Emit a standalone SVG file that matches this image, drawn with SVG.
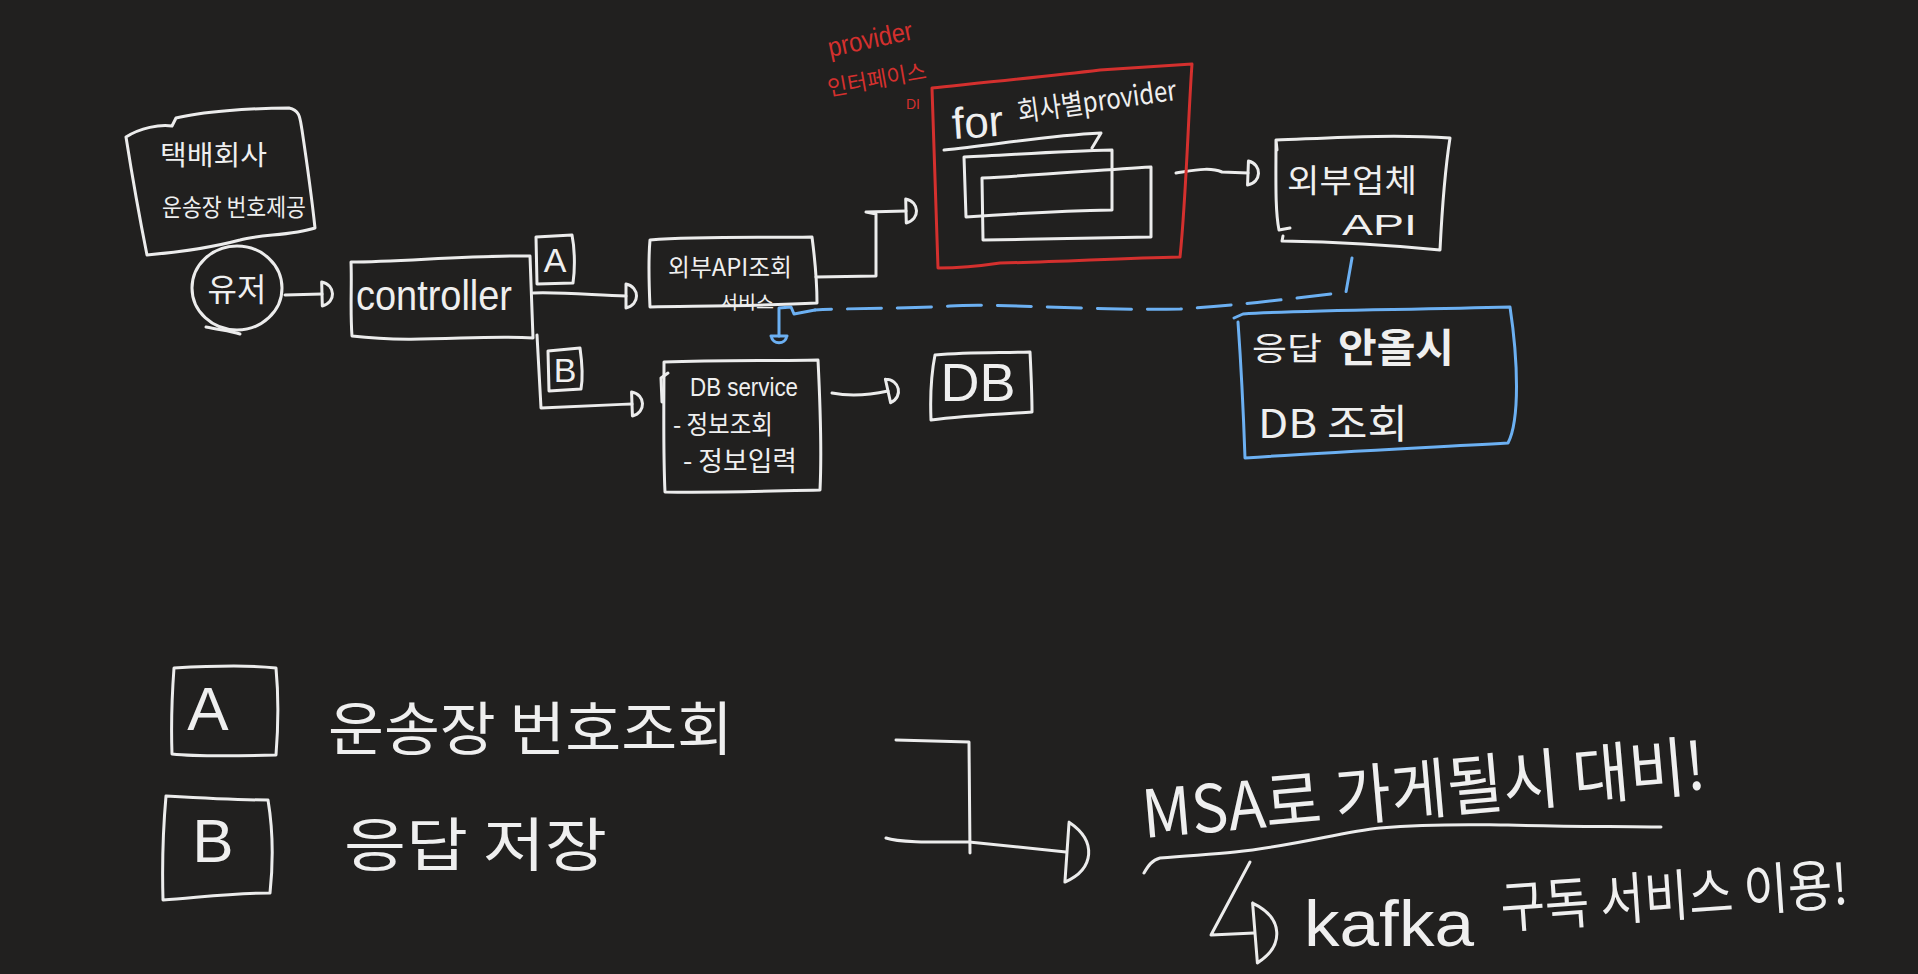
<svg xmlns="http://www.w3.org/2000/svg" width="1918" height="974" viewBox="0 0 1918 974">
<defs>
<style>
.ink{fill:none;stroke:#ececec;stroke-width:3;stroke-linecap:round;stroke-linejoin:round}
.red{fill:none;stroke:#d4302e;stroke-width:3;stroke-linecap:round;stroke-linejoin:round}
.blue{fill:none;stroke:#6cb0f2;stroke-width:3;stroke-linecap:round;stroke-linejoin:round}
.dash{stroke-dasharray:34 16}
.t{fill:#efefef;font-family:"Noto Sans CJK KR","Liberation Sans",sans-serif}
.lt{fill:#efefef;font-family:"Liberation Sans","Noto Sans CJK KR",sans-serif}
.rt{fill:#d4302e;font-family:"Liberation Sans","Noto Sans CJK KR",sans-serif}
</style>
<marker id="arrowD" viewBox="-3 -15 20 30" markerWidth="20" markerHeight="30" refX="0" refY="0" orient="auto" markerUnits="userSpaceOnUse">
<path d="M0,-12 L0,12 M0,-12 C14,-9 14,9 0,12" fill="none" stroke="#ececec" stroke-width="3" stroke-linecap="round"/>
</marker>
<marker id="arrowDL" viewBox="-4 -34 40 68" markerWidth="40" markerHeight="68" refX="0" refY="0" orient="auto" markerUnits="userSpaceOnUse">
<path d="M0,-30 L2,30 M0,-30 C30,-14 30,14 2,30" fill="none" stroke="#ececec" stroke-width="3" stroke-linecap="round"/>
</marker>
<marker id="arrowB" viewBox="-3 -10 14 20" markerWidth="14" markerHeight="20" refX="0" refY="0" orient="auto" markerUnits="userSpaceOnUse">
<path d="M0,-8 L0,8 M0,-8 C9,-6 9,6 0,8" fill="none" stroke="#6cb0f2" stroke-width="3" stroke-linecap="round"/>
</marker>
</defs>
<rect width="1918" height="974" fill="#21201f"/>

<g id="connectors">
<path class="ink" d="M285,295 L322,294" marker-end="url(#arrowD)"/>
<path class="ink" d="M533,293 C570,292 600,296 626,296" marker-end="url(#arrowD)"/>
<path class="ink" d="M537,335 L541,408 C580,406 605,405 632,404" marker-end="url(#arrowD)"/>
<path class="ink" d="M816,277 L876,276 L876,214 L866,212 L906,211" marker-end="url(#arrowD)"/>
<path class="ink" d="M1176,173 C1196,170 1210,167 1222,172 L1248,173" marker-end="url(#arrowD)"/>
<path class="ink" d="M832,393 C852,397 870,395 888,391" marker-end="url(#arrowD)"/>
<path class="blue dash" d="M1352,258 L1346,292 C1300,298 1230,306 1180,309 C1100,311 1000,303 950,306 C900,309 850,308 815,310"/>
<path class="blue" d="M815,310 L794,314 L791,307 L779,308 L779,336" marker-end="url(#arrowB)"/>
<path class="ink" d="M896,740 L969,742 L970,853"/>
<path class="ink" d="M886,838 C900,843 940,842 969,842 L1066,852" marker-end="url(#arrowDL)"/>
<path class="ink" d="M1250,862 L1211,935 L1254,933" marker-end="url(#arrowDL)"/>
</g>

<g id="note-courier">
<path class="ink" d="M126,137 C140,128 160,124 172,126 L176,118 C200,112 250,108 289,108 C300,110 300,118 302,130 C308,170 312,200 315,228 C290,236 260,234 240,240 C210,248 180,252 147,255 C140,220 132,175 126,137 Z"/>
<text class="t" x="160" y="165" font-size="27" textLength="107" lengthAdjust="spacingAndGlyphs">택배회사</text>
<text class="t" x="162" y="216" font-size="24" textLength="144" lengthAdjust="spacingAndGlyphs">운송장 번호제공</text>
</g>

<g id="user">
<ellipse class="ink" cx="237" cy="288" rx="45" ry="42"/>
<path class="ink" d="M206,327 C220,330 230,331 240,334"/>
<text class="t" x="237" y="301" font-size="32" text-anchor="middle">유저</text>
</g>

<g id="controller">
<path class="ink" d="M351,262 C400,262 470,255 530,256 L533,338 C480,334 420,344 352,336 C350,310 352,285 351,262 Z"/>
<text class="lt" x="356" y="310" font-size="42" textLength="156" lengthAdjust="spacingAndGlyphs">controller</text>
</g>

<g id="label-a">
<path class="ink" d="M536,237 L572,235 C575,250 575,270 573,283 L537,284 Z"/>
<text class="lt" x="555" y="272" font-size="34" text-anchor="middle">A</text>
</g>

<g id="label-b">
<path class="ink" d="M548,351 L580,348 C582,362 583,378 581,389 L549,391 Z"/>
<text class="lt" x="565" y="382" font-size="34" text-anchor="middle">B</text>
</g>

<g id="external-api-service">
<path class="ink" d="M650,240 C700,236 760,238 812,237 C815,260 817,285 817,303 C760,306 700,306 650,307 C649,285 648,262 650,240 Z"/>
<text class="t" x="668" y="276" font-size="24" textLength="124" lengthAdjust="spacingAndGlyphs">외부API조회</text>
<text class="t" x="720" y="309" font-size="18" textLength="54" lengthAdjust="spacingAndGlyphs">서비스</text>
</g>

<g id="provider-interface">
<path class="red" d="M932,88 C990,82 1050,76 1100,70 L1192,64 C1188,120 1186,200 1180,257 C1120,258 1060,262 1000,263 C980,266 960,268 938,268 C936,200 934,140 932,88 Z"/>
<text class="rt" x="830" y="57" font-size="27" transform="rotate(-12 830 57)" textLength="86" lengthAdjust="spacingAndGlyphs">provider</text>
<text class="rt" x="829" y="96" font-size="22" transform="rotate(-10 829 96)" textLength="100" lengthAdjust="spacingAndGlyphs" style="font-family:'Noto Sans CJK KR',sans-serif">인터페이스</text>
<text class="rt" x="906" y="109" font-size="14">DI</text>
<text class="lt" x="953" y="139" font-size="44" transform="rotate(-4 953 139)">for</text>
<text class="t" x="1019" y="122" font-size="28" transform="rotate(-8 1019 122)" textLength="160" lengthAdjust="spacingAndGlyphs">회사별provider</text>
<path class="ink" d="M944,150 C990,146 1040,136 1101,133 L1092,148"/>
<path class="ink" d="M964,157 C1010,155 1060,151 1112,150 L1112,210 C1060,211 1010,214 966,217 Z"/>
<path class="ink" d="M982,178 C1040,175 1100,170 1151,167 L1151,237 C1100,238 1040,239 983,240 Z"/>
</g>

<g id="external-company-api">
<path class="ink" d="M1277,150 L1276,140 C1330,138 1390,134 1450,138 C1445,170 1442,210 1440,250 C1400,246 1340,242 1282,241 L1283,236 M1276,140 C1276,180 1275,210 1279,230 L1290,228"/>
<text class="t" x="1287" y="192" font-size="32" textLength="130" lengthAdjust="spacingAndGlyphs">외부업체</text>
<text class="lt" x="1342" y="235" font-size="30" textLength="75" lengthAdjust="spacingAndGlyphs">API</text>
</g>

<g id="db-service">
<path class="ink" d="M664,362 C720,360 770,361 818,360 C820,400 822,450 820,490 C770,491 720,493 665,492 C663,450 664,400 664,362 Z"/>
<path class="ink" d="M668,373 L661,378 L662,402"/>
<text class="lt" x="690" y="396" font-size="25" textLength="108" lengthAdjust="spacingAndGlyphs">DB service</text>
<text class="t" x="673" y="434" font-size="26" textLength="100" lengthAdjust="spacingAndGlyphs">- 정보조회</text>
<text class="t" x="683" y="471" font-size="27" textLength="114" lengthAdjust="spacingAndGlyphs">- 정보입력</text>
</g>

<g id="db">
<path class="ink" d="M935,355 C970,352 1000,353 1030,352 C1031,372 1032,395 1032,412 C1000,414 960,416 931,420 C930,395 932,370 935,355 Z"/>
<text class="lt" x="978" y="401" font-size="54" text-anchor="middle">DB</text>
</g>

<g id="fallback-note">
<path class="blue" d="M1234,318 L1243,314 C1300,310 1400,310 1510,307 C1518,360 1520,420 1508,443 C1420,448 1330,452 1245,458 C1243,400 1240,350 1238,322"/>
<text class="t" x="1252" y="360" font-size="32" textLength="70" lengthAdjust="spacingAndGlyphs">응답</text>
<text class="t" x="1338" y="362" font-size="40" font-weight="bold" textLength="116" lengthAdjust="spacingAndGlyphs">안올시</text>
<text class="t" x="1258" y="438" font-size="40" textLength="150" lengthAdjust="spacingAndGlyphs">DB 조회</text>
</g>

<g id="legend-a">
<path class="ink" d="M174,668 C210,666 250,665 276,668 C279,700 278,730 276,755 C240,756 200,757 172,754 C171,725 172,695 174,668 Z"/>
<text class="lt" x="208" y="730" font-size="62" text-anchor="middle">A</text>
<text class="t" x="328" y="750" font-size="58" textLength="405" lengthAdjust="spacingAndGlyphs">운송장 번호조회</text>
</g>

<g id="legend-b">
<path class="ink" d="M166,796 C200,798 240,800 268,800 C273,830 273,865 270,893 C230,893 195,898 163,900 C162,865 163,830 166,796 Z"/>
<text class="lt" x="213" y="862" font-size="62" text-anchor="middle">B</text>
<text class="t" x="344" y="866" font-size="58" textLength="263" lengthAdjust="spacingAndGlyphs">응답 저장</text>
</g>

<g id="msa-note">
<text class="t" x="1144" y="838" font-size="66" transform="rotate(-5 1144 838)" textLength="565" lengthAdjust="spacingAndGlyphs">MSA로 가게될시 대비!</text>
<path class="ink" d="M1144,873 C1148,866 1152,860 1160,858 C1190,855 1210,855 1235,852 C1300,845 1340,832 1380,828 C1440,823 1480,825 1508,825 C1580,827 1620,826 1661,827"/>
</g>

<g id="kafka-note">
<text class="lt" x="1304" y="946" font-size="64" textLength="170" lengthAdjust="spacingAndGlyphs">kafka</text>
<text class="t" x="1502" y="928" font-size="56" transform="rotate(-4 1502 928)" textLength="348" lengthAdjust="spacingAndGlyphs">구독 서비스 이용!</text>
</g>
</svg>
